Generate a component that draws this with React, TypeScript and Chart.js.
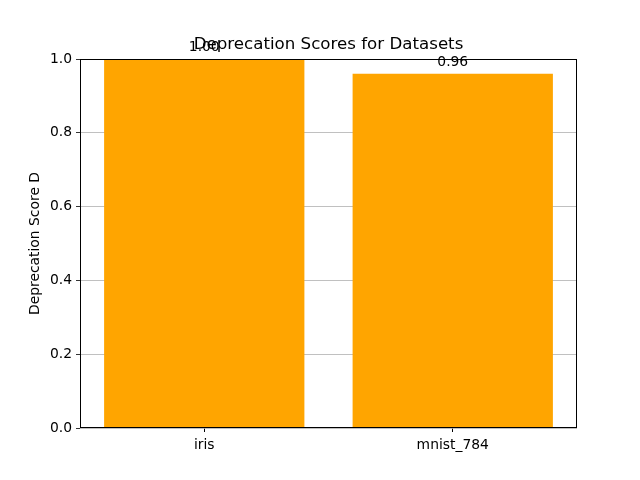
import React from 'react';
import { Chart, registerables } from 'chart.js';
Chart.register(...registerables);

const datasets = ['iris', 'mnist_784'];
const scores = [1.0, 0.96];
const yTicks = [0, 0.2, 0.4, 0.6, 0.8, 1.0];

const FONT = '"DejaVu Sans", sans-serif';

// frame, title, axis label and value labels, drawn the matplotlib way
const decorations = {
  id: 'decorations',
  afterDatasetsDraw(chart) {
    const { ctx, chartArea } = chart;
    const { left, right, top, bottom } = chartArea;
    ctx.save();
    ctx.strokeStyle = '#000';
    ctx.lineWidth = 1;
    ctx.strokeRect(left + 0.5, top + 0.5, right - left - 1, bottom - top - 1);

    ctx.fillStyle = '#000';
    ctx.font = `13.89px ${FONT}`;
    ctx.textAlign = 'center';
    ctx.textBaseline = 'alphabetic';
    const meta = chart.getDatasetMeta(0);
    meta.data.forEach((bar, i) => {
      ctx.fillText(scores[i].toFixed(2), bar.x, bar.y - 8);
    });

    ctx.font = `16.67px ${FONT}`;
    ctx.fillText('Deprecation Scores for Datasets', (left + right) / 2, top - 10);

    ctx.font = `13.89px ${FONT}`;
    ctx.translate(35, (top + bottom) / 2);
    ctx.rotate(-Math.PI / 2);
    ctx.textBaseline = 'middle';
    ctx.fillText('Deprecation Score D', 0, 0);
    ctx.restore();
  },
};

const App = () => {
  const chartRef = React.useRef<HTMLCanvasElement>(null);
  const chartInstance = React.useRef<Chart | null>(null);

  React.useEffect(() => {
    if (!chartRef.current) return;
    if (chartInstance.current) {
      chartInstance.current.destroy();
    }

    chartInstance.current = new Chart(chartRef.current, {
      type: 'bar',
      data: {
        labels: datasets,
        datasets: [
          {
            label: 'Deprecation Score D',
            data: scores,
            backgroundColor: '#FFA500',
            borderWidth: 0,
            barPercentage: 0.806,
            categoryPercentage: 1,
          },
        ],
      },
      options: {
        animation: false,
        responsive: false,
        devicePixelRatio: 1,
        layout: { padding: { top: 59, right: 63, left: 0, bottom: 0 } },
        plugins: {
          legend: { display: false },
          title: { display: false },
          tooltip: { enabled: false },
        },
        scales: {
          x: {
            afterFit: (s) => {
              s.height = 52;
            },
            grid: {
              offset: false,
              drawOnChartArea: false,
              drawTicks: true,
              tickLength: 4,
              tickColor: '#000',
            },
            border: { display: false },
            ticks: {
              color: '#000',
              padding: 5,
              font: { family: FONT, size: 13.89 },
            },
          },
          y: {
            min: 0,
            max: 1,
            afterFit: (s) => {
              s.width = 80;
            },
            afterBuildTicks: (s) => {
              s.ticks = yTicks.map((v) => ({ value: v }));
            },
            grid: {
              color: '#b0b0b0',
              lineWidth: 0.8,
              drawTicks: true,
              tickLength: 4,
              tickColor: '#000',
            },
            border: { display: false },
            ticks: {
              color: '#000',
              padding: 4,
              font: { family: FONT, size: 13.89 },
              callback: (v) => Number(v).toFixed(1),
            },
          },
        },
      },
      plugins: [decorations],
    });

    return () => {
      if (chartInstance.current) {
        chartInstance.current.destroy();
        chartInstance.current = null;
      }
    };
  }, []);

  return (
    <div style={{ position: 'absolute', left: 0, top: 0, width: 640, height: 480, background: '#fff' }}>
      <canvas ref={chartRef} width={640} height={480} />
    </div>
  );
};

export default App;
